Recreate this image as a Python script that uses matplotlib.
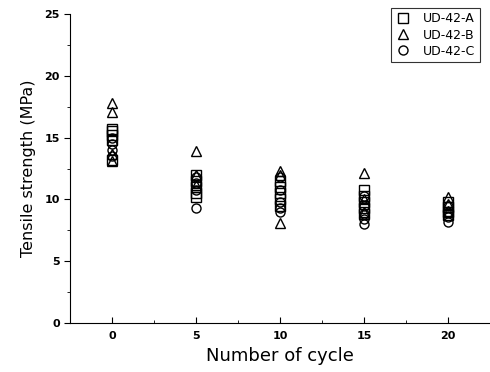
import matplotlib.pyplot as plt
import numpy as np
from matplotlib.ticker import MultipleLocator

# cycles and measured tensile strength (MPa) for each specimen set
cycles = [0, 5, 10, 15, 20]

ud42_a = [
    [15.7, 15.5, 15.2, 14.8, 13.2],
    [12.0, 11.5, 11.0, 10.5, 10.2],
    [11.5, 11.0, 10.5, 10.0, 9.5],
    [10.8, 10.3, 9.8, 9.3, 8.8],
    [9.8, 9.4, 9.0, 8.7],
]
ud42_b = [
    [17.8, 17.1, 13.7, 13.1],
    [13.9, 12.0, 11.2],
    [12.3, 12.0, 8.1],
    [12.1, 10.0, 9.0],
    [10.2, 9.6, 9.1],
]
ud42_c = [
    [15.0, 14.5, 14.0, 13.5],
    [11.8, 11.3, 10.8, 9.3],
    [11.8, 10.8, 9.8, 9.3, 9.0],
    [10.3, 9.5, 8.8, 8.4, 8.0],
    [9.5, 9.0, 8.6, 8.2],
]

fig = plt.figure(figsize=(4.9, 3.72), dpi=100)
ax = fig.add_axes([0.143, 0.132, 0.857, 0.83])

series = [(ud42_a, 's', 'UD-42-A'), (ud42_b, '^', 'UD-42-B'), (ud42_c, 'o', 'UD-42-C')]
for data, mk, lab in series:
    xs, ys = [], []
    for c, vals in zip(cycles, data):
        xs += [c] * len(vals)
        ys += vals
    ax.plot(xs, ys, linestyle='none', marker=mk, markersize=6.5,
            markerfacecolor='none', markeredgecolor='black', markeredgewidth=1.0,
            label=lab)

ax.set_xlim(-2.5, 22.5)
ax.set_ylim(0, 25)
ax.xaxis.set_major_locator(MultipleLocator(5))
ax.xaxis.set_minor_locator(MultipleLocator(2.5))
ax.yaxis.set_major_locator(MultipleLocator(5))
ax.yaxis.set_minor_locator(MultipleLocator(2.5))

ax.spines['top'].set_visible(False)
ax.spines['right'].set_visible(False)
ax.tick_params(axis='x', which='both', direction='in', labelsize=8, pad=6)
ax.tick_params(axis='y', which='both', direction='out', labelsize=8)
ax.tick_params(which='major', length=4)
ax.tick_params(which='minor', length=2.5)
for lbl in ax.get_xticklabels() + ax.get_yticklabels():
    lbl.set_fontweight('bold')

ax.set_xlabel('Number of cycle', fontsize=13, labelpad=4)
ax.set_ylabel('Tensile strength (MPa)', fontsize=11.5, labelpad=6)

leg = ax.legend(loc='upper right', bbox_to_anchor=(0.99, 1.04), fontsize=9,
                frameon=True, fancybox=False, edgecolor='black',
                handletextpad=1.0, borderpad=0.35, labelspacing=0.25,
                handlelength=1.2)
leg.get_frame().set_linewidth(0.8)

fig.savefig('out.png', dpi=100)
